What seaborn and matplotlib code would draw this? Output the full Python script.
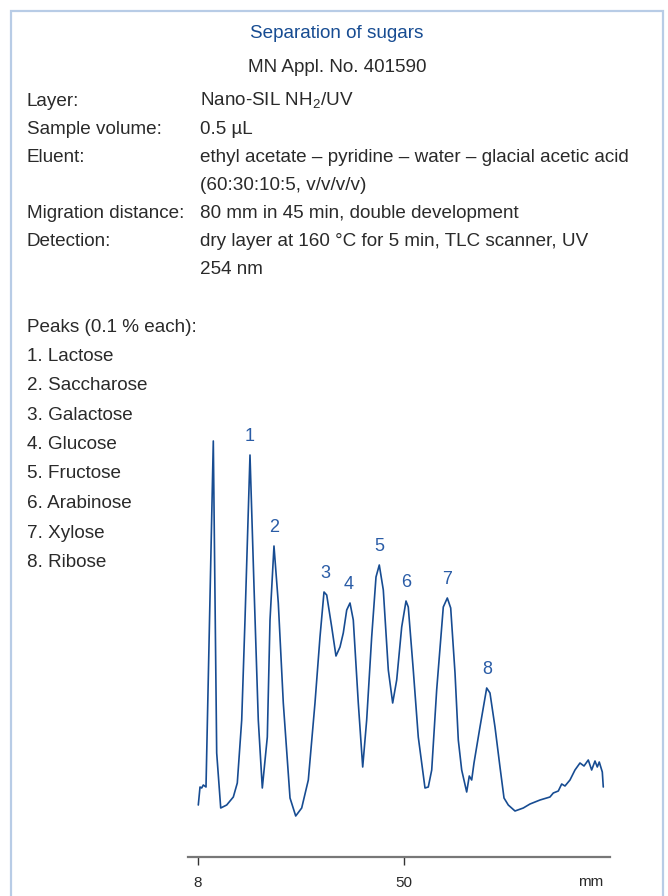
import seaborn as sns
import matplotlib.pyplot as plt
import matplotlib.patches as mpatches
import matplotlib.transforms as mtransforms
import pandas as pd

# densitogram trace: position (mm) and detector signal (a.u.)
position_mm = [8.06, 8.41, 8.75, 9.08, 9.63, 11.12, 11.81, 12.63, 13.85, 15.20,
               16.01, 16.91, 17.58, 18.60, 19.42, 20.29, 21.11, 22.13, 22.68, 23.49,
               24.37, 25.39, 26.76, 27.92, 29.14, 30.49, 31.85, 32.87, 33.69, 34.24,
               35.26, 36.13, 36.95, 37.62, 38.32, 38.99, 39.66, 40.68, 41.58, 42.39,
               43.41, 44.29, 44.96, 45.78, 46.80, 47.69, 48.51, 49.53, 50.41, 50.87,
               51.89, 52.91, 54.28, 54.95, 55.65, 56.66, 58.01, 58.83, 59.52, 60.40,
               61.07, 61.76, 62.78, 63.31, 63.80, 64.27, 65.49, 66.86, 67.53, 68.55,
               69.57, 70.39, 71.26, 72.63, 74.32, 75.69, 77.73, 79.76, 80.44, 81.46,
               82.15, 82.82, 83.84, 84.86, 85.88, 86.70, 87.57, 88.26, 88.94, 89.41,
               89.81, 90.43, 90.63]
signal = [52, 70, 69, 72, 70, 416, 104, 49, 52, 60,
          74, 137, 237, 402, 270, 137, 69, 120, 237, 311,
          254, 154, 59, 41, 49, 77, 154, 220, 265, 262,
          230, 201, 210, 224, 247, 254, 237, 154, 90, 137,
          220, 280, 292, 267, 187, 154, 177, 230, 256, 250,
          187, 120, 69, 70, 87, 167, 250, 259, 249, 184,
          117, 87, 65, 81, 77, 94, 130, 169, 164, 130,
          90, 59, 52, 46, 49, 53, 57, 60, 64, 66,
          73, 71, 77, 87, 94, 91, 97, 87, 96, 90,
          95, 85, 70]

peak_names = ["Lactose", "Saccharose", "Galactose", "Glucose",
              "Fructose", "Arabinose", "Xylose", "Ribose"]
peak_mm = [18.60, 23.49, 33.89, 38.78, 44.90, 50.41, 58.77, 66.92]
peak_height = [402, 311, 265, 254, 292, 256, 259, 169]

x_ticks = [8, 50]

conditions = [
    ("Layer:", ["Nano-SIL NH$_\\mathregular{2}$/UV"]),
    ("Sample volume:", ["0.5 µL"]),
    ("Eluent:", ["ethyl acetate – pyridine – water – glacial acetic acid",
                 "(60:30:10:5, v/v/v/v)"]),
    ("Migration distance:", ["80 mm in 45 min, double development"]),
    ("Detection:", ["dry layer at 160 °C for 5 min, TLC scanner, UV", "254 nm"]),
]

BLUE = "#174c92"
TEXT = "#2a2a2a"


def main():
    sns.set_theme(style="white")
    plt.rcParams["font.family"] = ["Liberation Sans", "DejaVu Sans"]
    plt.rcParams["mathtext.fontset"] = "custom"
    plt.rcParams["mathtext.rm"] = "Liberation Sans"

    W, H = 668, 896
    fig = plt.figure(figsize=(W / 100, H / 100), dpi=100)

    def ft(x, y, s, **kw):
        kw.setdefault("color", TEXT)
        kw.setdefault("fontsize", 13.6)
        fig.text(x / W, 1 - y / H, s, va="center", **kw)

    # header
    ft(337, 34, "Separation of sugars", ha="center", color=BLUE)
    ft(337, 68, "MN Appl. No. 401590", ha="center")

    y = 101
    for label, lines in conditions:
        ft(27, y, label)
        for line in lines:
            ft(200, y, line)
            y += 28
    ft(27, 327, "Peaks (0.1 % each):")
    for i, name in enumerate(peak_names):
        ft(27, 356 + i * 29.5, f"{i + 1}. {name}")

    # frame
    fig.add_artist(mpatches.Rectangle((11 / W, -0.05), (652 / W), 1.05 - 11 / H,
                                      transform=fig.transFigure, fill=False,
                                      edgecolor="#b8cce6", linewidth=1.6))

    # chromatogram
    ax = fig.add_axes([188 / W, 1 - 857 / H, 422 / W, 430 / H])
    df = pd.DataFrame({"mm": position_mm, "signal": signal})
    sns.lineplot(data=df, x="mm", y="signal", ax=ax, color=BLUE,
                 linewidth=1.2, estimator=None, sort=False)

    for i, (xm, yh) in enumerate(zip(peak_mm, peak_height)):
        ax.annotate(str(i + 1), (xm, yh), xytext=(0, 13), textcoords="offset points",
                    ha="center", va="center", color="#2a5ca6", fontsize=13)

    ax.set_xlim(5.96, 92.0)
    ax.set_ylim(0, 430)
    ax.set_xticks(x_ticks)
    ax.set_xticklabels([str(t) for t in x_ticks])
    ax.tick_params(axis="x", direction="out", length=6, width=1, color="#333333",
                   labelsize=11, labelcolor=TEXT, pad=8, bottom=True)
    # unit label sits on the tick-label row
    trans = mtransforms.blended_transform_factory(ax.transData, ax.transAxes)
    ax.text(88.0, -0.058, "mm", transform=trans, ha="center", va="center",
            fontsize=11, color=TEXT)
    ax.set_yticks([])
    ax.set_xlabel("")
    ax.set_ylabel("")
    sns.despine(ax=ax, left=True)
    ax.spines["bottom"].set_color("#777777")
    ax.spines["bottom"].set_linewidth(1.6)
    ax.patch.set_alpha(0)

    fig.savefig("out.png", dpi=100)


if __name__ == '__main__':
    main()
